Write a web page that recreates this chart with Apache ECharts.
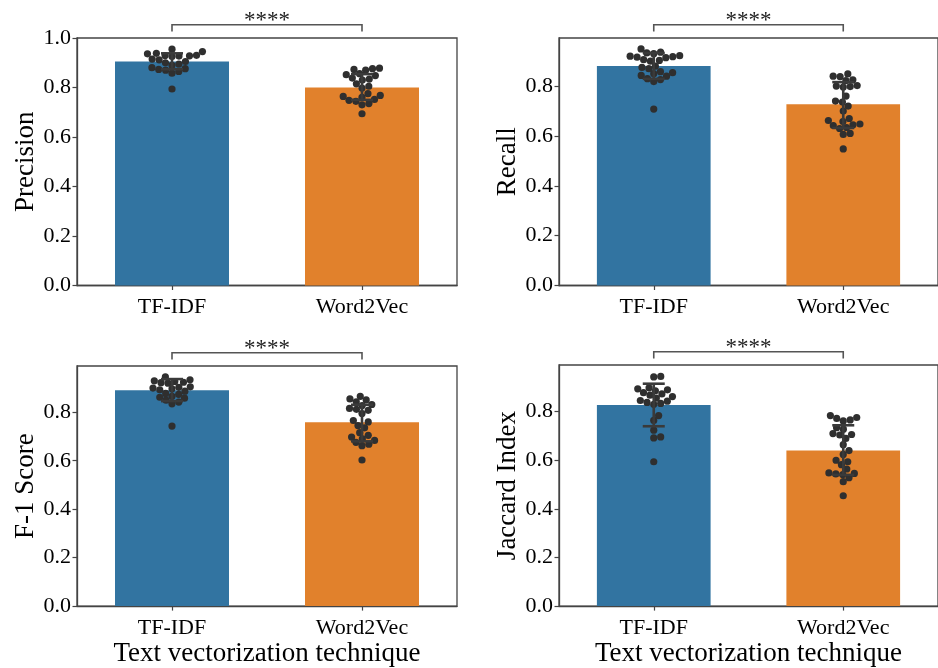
<!DOCTYPE html>
<html><head><meta charset="utf-8">
<script src="https://cdn.jsdelivr.net/npm/echarts@6/dist/echarts.min.js"></script>
<style>html,body{margin:0;padding:0;background:#fff}#c{width:938px;height:668px}</style>
</head><body><div id="c"></div>
<script>
// ---------------- DATA ----------------
const categories = ['TF-IDF', 'Word2Vec'];
const metricNames = ['Precision', 'Recall', 'F-1 Score', 'Jaccard Index'];
const xAxisTitle = 'Text vectorization technique';
const significance = ['****', '****', '****', '****'];

const precisionTicks = [0, 0.2, 0.4, 0.6, 0.8, 1.0];
const recallTicks = [0, 0.2, 0.4, 0.6, 0.8];
const f1Ticks = [0, 0.2, 0.4, 0.6, 0.8];
const jaccardTicks = [0, 0.2, 0.4, 0.6, 0.8];
const yMaxes = [1.0, 0.993, 0.991, 0.992];

const precisionMeans = [0.905, 0.800];
const precisionLow = [0.874, 0.750];
const precisionHigh = [0.938, 0.854];
const recallMeans = [0.881, 0.727];
const recallLow = [0.829, 0.632];
const recallHigh = [0.933, 0.816];
const f1Means = [0.891, 0.759];
const f1Low = [0.846, 0.680];
const f1High = [0.937, 0.831];
const jaccardMeans = [0.827, 0.640];
const jaccardLow = [0.740, 0.540];
const jaccardHigh = [0.915, 0.744];

const precisionTfidf = [0.955, 0.945, 0.938, 0.936, 0.930, 0.929, 0.928, 0.927, 0.925, 0.915, 0.912, 0.905, 0.900, 0.895, 0.890, 0.880, 0.876, 0.873, 0.870, 0.865, 0.858, 0.794];
const precisionW2v = [0.878, 0.876, 0.873, 0.870, 0.856, 0.852, 0.848, 0.838, 0.834, 0.830, 0.815, 0.805, 0.798, 0.775, 0.768, 0.764, 0.760, 0.752, 0.748, 0.744, 0.735, 0.730, 0.694];
const recallTfidf = [0.949, 0.936, 0.933, 0.930, 0.922, 0.920, 0.918, 0.916, 0.914, 0.906, 0.903, 0.900, 0.880, 0.875, 0.870, 0.858, 0.854, 0.850, 0.843, 0.840, 0.830, 0.826, 0.818, 0.708];
const recallW2v = [0.849, 0.840, 0.838, 0.825, 0.822, 0.802, 0.800, 0.798, 0.796, 0.760, 0.740, 0.736, 0.720, 0.700, 0.670, 0.662, 0.658, 0.648, 0.645, 0.642, 0.634, 0.630, 0.610, 0.606, 0.548];
const f1Tfidf = [0.946, 0.934, 0.930, 0.927, 0.924, 0.922, 0.920, 0.905, 0.903, 0.900, 0.897, 0.893, 0.887, 0.878, 0.874, 0.866, 0.862, 0.858, 0.850, 0.842, 0.835, 0.743];
const f1W2v = [0.866, 0.855, 0.851, 0.843, 0.832, 0.828, 0.816, 0.812, 0.808, 0.795, 0.766, 0.760, 0.745, 0.736, 0.716, 0.705, 0.698, 0.690, 0.684, 0.676, 0.668, 0.662, 0.603];
const jaccardTfidf = [0.945, 0.943, 0.898, 0.894, 0.890, 0.886, 0.878, 0.873, 0.868, 0.862, 0.856, 0.846, 0.843, 0.838, 0.834, 0.830, 0.784, 0.764, 0.724, 0.696, 0.692, 0.594];
const jaccardW2v = [0.784, 0.776, 0.772, 0.766, 0.762, 0.734, 0.728, 0.710, 0.706, 0.704, 0.690, 0.664, 0.640, 0.624, 0.600, 0.594, 0.582, 0.564, 0.548, 0.546, 0.544, 0.541, 0.528, 0.512, 0.454];

// ---------------- ASSEMBLY ----------------
const panels = [
  {name: metricNames[0], ticks: precisionTicks, means: precisionMeans, low: precisionLow, high: precisionHigh, pts: [precisionTfidf, precisionW2v]},
  {name: metricNames[1], ticks: recallTicks, means: recallMeans, low: recallLow, high: recallHigh, pts: [recallTfidf, recallW2v]},
  {name: metricNames[2], ticks: f1Ticks, means: f1Means, low: f1Low, high: f1High, pts: [f1Tfidf, f1W2v]},
  {name: metricNames[3], ticks: jaccardTicks, means: jaccardMeans, low: jaccardLow, high: jaccardHigh, pts: [jaccardTfidf, jaccardW2v]}
];
const grids = [
  {left: 77, top: 38, width: 380, height: 247.5},
  {left: 559, top: 38, width: 380, height: 247.5},
  {left: 77, top: 366, width: 380, height: 247.5},
  {left: 559, top: 365, width: 380, height: 248}
];
const barColors = ['#3274a1', '#e1812c'];
const FONT = "'Liberation Serif', 'Times New Roman', serif";
const DOT_R = 3.6;
const DOT_GAP = 7.0;
const INK = '#3a3a3a';

function swarmOffsets(values, pxPerUnit, d) {
  const order = values.map((v, i) => i).sort((a, b) => values[a] - values[b]);
  const placed = [];
  const offs = new Array(values.length).fill(0);
  for (const i of order) {
    const y = values[i] * pxPerUnit;
    const near = placed.filter(p => Math.abs(p.y - y) < d);
    const cands = [0];
    near.forEach(p => {
      const dx = Math.sqrt(d * d - (p.y - y) * (p.y - y));
      cands.push(p.x + dx, p.x - dx);
    });
    cands.sort((a, b) => Math.abs(a) - Math.abs(b));
    let best = 0;
    for (const c of cands) {
      if (near.every(p => (p.x - c) * (p.x - c) + (p.y - y) * (p.y - y) >= d * d - 1e-6)) { best = c; break; }
    }
    placed.push({x: best, y: y});
    offs[i] = best;
  }
  return offs;
}

const option = {
  animation: false,
  backgroundColor: '#ffffff',
  grid: grids.map(g => Object.assign({show: true, borderColor: '#444', borderWidth: 1.3, backgroundColor: 'transparent', containLabel: false}, g)),
  xAxis: panels.map((p, i) => ({
    type: 'category', gridIndex: i, data: categories,
    axisLine: {show: true, lineStyle: {color: '#444', width: 1.3}},
    axisTick: {show: true, alignWithLabel: true, length: 4.5, lineStyle: {color: '#444', width: 1.2}},
    axisLabel: {color: '#000', fontFamily: FONT, fontSize: 22, margin: 11},
    name: i >= 2 ? xAxisTitle : '', nameLocation: 'middle', nameGap: 27,
    nameTextStyle: {color: '#000', fontFamily: FONT, fontSize: 27}
  })),
  yAxis: panels.map((p, i) => ({
    type: 'value', gridIndex: i, min: 0, max: yMaxes[i], interval: 0.2,
    splitLine: {show: false},
    axisLine: {show: true, lineStyle: {color: '#444', width: 1.3}},
    axisTick: {show: true, length: 4.5, customValues: p.ticks, lineStyle: {color: '#444', width: 1.2}},
    axisLabel: {color: '#000', fontFamily: FONT, fontSize: 22, margin: 6, customValues: p.ticks, formatter: v => v.toFixed(1)},
    name: p.name, nameLocation: 'middle', nameGap: 34, nameRotate: 90,
    nameTextStyle: {color: '#000', fontFamily: FONT, fontSize: 27}
  })),
  series: []
};

panels.forEach((p, i) => {
  // bars
  option.series.push({
    type: 'bar', xAxisIndex: i, yAxisIndex: i, barWidth: '60%', z: 1,
    data: p.means.map((m, k) => ({value: m, itemStyle: {color: barColors[k]}}))
  });
  // error bars
  option.series.push({
    type: 'custom', xAxisIndex: i, yAxisIndex: i, z: 4,
    data: p.means.map((m, k) => [k, p.low[k], p.high[k]]),
    renderItem: function (params, api) {
      const a = api.coord([api.value(0), api.value(1)]);
      const b = api.coord([api.value(0), api.value(2)]);
      const hw = 11;
      const st = {stroke: INK, lineWidth: 2.6};
      return {type: 'group', children: [
        {type: 'line', shape: {x1: a[0], y1: a[1], x2: b[0], y2: b[1]}, style: st},
        {type: 'line', shape: {x1: a[0] - hw, y1: a[1], x2: a[0] + hw, y2: a[1]}, style: st},
        {type: 'line', shape: {x1: b[0] - hw, y1: b[1], x2: b[0] + hw, y2: b[1]}, style: st}
      ]};
    }
  });
  // swarm dots
  const pxPerUnit = grids[i].height / yMaxes[i];
  const dots = [];
  p.pts.forEach((vals, k) => {
    const offs = swarmOffsets(vals, pxPerUnit, DOT_GAP);
    vals.forEach((v, j) => dots.push([k, v, offs[j]]));
  });
  option.series.push({
    type: 'custom', xAxisIndex: i, yAxisIndex: i, z: 3,
    data: dots,
    renderItem: function (params, api) {
      const c = api.coord([api.value(0), api.value(1)]);
      return {type: 'circle', shape: {cx: c[0] + api.value(2), cy: c[1], r: DOT_R}, style: {fill: '#2f2f2f'}};
    }
  });
  // significance bracket
  option.series.push({
    type: 'custom', xAxisIndex: i, yAxisIndex: i, z: 5, clip: false,
    data: [[0, 1, yMaxes[i]]],
    renderItem: function (params, api) {
      const l = api.coord([api.value(0), api.value(2)]);
      const r = api.coord([api.value(1), api.value(2)]);
      const top = l[1];
      return {type: 'group', children: [
        {type: 'polyline', shape: {points: [[l[0], top - 6.5], [l[0], top - 13.3], [r[0], top - 13.3], [r[0], top - 6.5]]},
          style: {stroke: '#555', lineWidth: 1.6, fill: null}},
        {type: 'text', style: {text: significance[i], x: (l[0] + r[0]) / 2, y: top - 6, align: 'center', verticalAlign: 'bottom',
          fill: '#222', font: '23px ' + FONT}}
      ]};
    }
  });
});

const chart = echarts.init(document.getElementById('c'), null, {renderer: 'canvas'});
chart.setOption(option);
</script>
</body></html>
